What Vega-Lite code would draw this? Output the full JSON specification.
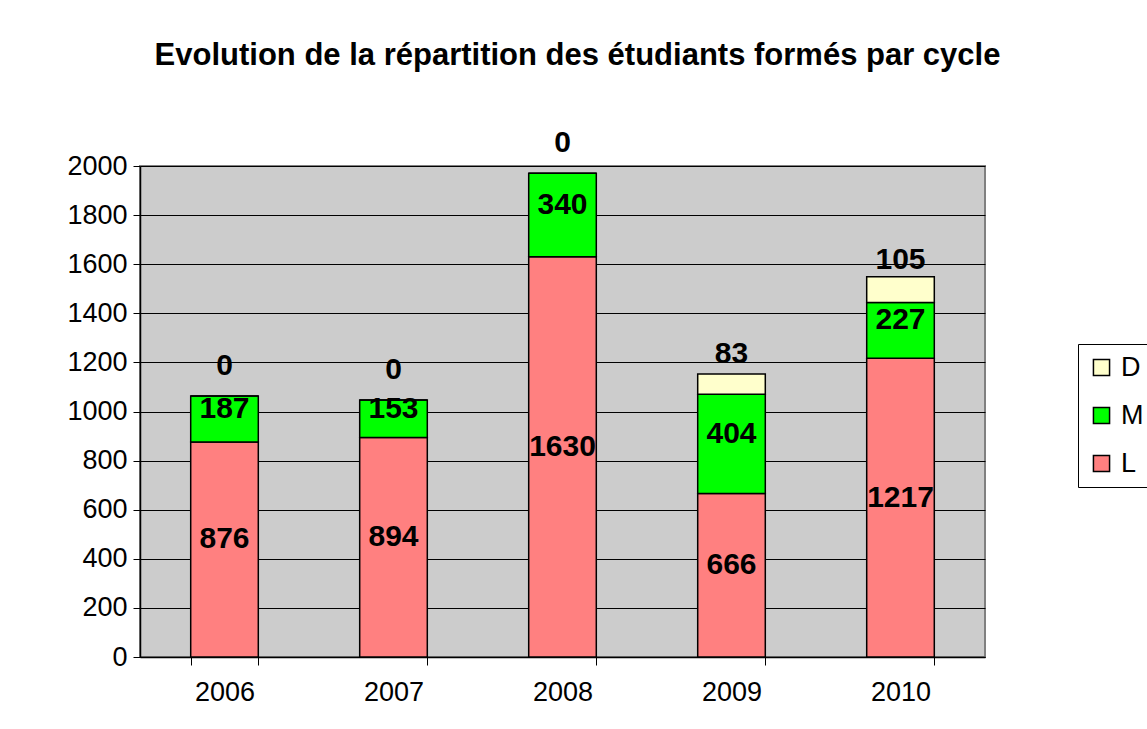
{
  "$schema": "https://vega.github.io/schema/vega-lite/v6.json",
  "width": 845,
  "height": 491,
  "autosize": "none",
  "padding": {"left": 140, "top": 166, "right": 162, "bottom": 72},
  "background": "white",
  "config": {
    "font": "Liberation Sans",
    "view": {"fill": "#CCCCCC", "stroke": "#808080", "strokeWidth": 2}
  },
  "title": {
    "text": "Evolution de la répartition des étudiants formés par cycle",
    "fontSize": 31,
    "fontWeight": "bold",
    "font": "Liberation Sans",
    "color": "black",
    "anchor": "middle",
    "frame": "group",
    "dx": 15,
    "offset": 56
  },
  "data": {
    "values": [
      {"annee": "2006", "cycle": "L", "rang": 1, "n": 876},
      {"annee": "2006", "cycle": "M", "rang": 2, "n": 187},
      {"annee": "2006", "cycle": "D", "rang": 3, "n": 0},
      {"annee": "2007", "cycle": "L", "rang": 1, "n": 894},
      {"annee": "2007", "cycle": "M", "rang": 2, "n": 153},
      {"annee": "2007", "cycle": "D", "rang": 3, "n": 0},
      {"annee": "2008", "cycle": "L", "rang": 1, "n": 1630},
      {"annee": "2008", "cycle": "M", "rang": 2, "n": 340},
      {"annee": "2008", "cycle": "D", "rang": 3, "n": 0},
      {"annee": "2009", "cycle": "L", "rang": 1, "n": 666},
      {"annee": "2009", "cycle": "M", "rang": 2, "n": 404},
      {"annee": "2009", "cycle": "D", "rang": 3, "n": 83},
      {"annee": "2010", "cycle": "L", "rang": 1, "n": 1217},
      {"annee": "2010", "cycle": "M", "rang": 2, "n": 227},
      {"annee": "2010", "cycle": "D", "rang": 3, "n": 105}
    ]
  },
  "transform": [
    {"stack": "n", "groupby": ["annee"], "sort": [{"field": "rang", "order": "ascending"}], "as": ["y0", "y1"]},
    {"calculate": "(datum.y0 + datum.y1) / 2", "as": "ymid"}
  ],
  "encoding": {
    "x": {
      "field": "annee",
      "type": "nominal",
      "title": null,
      "scale": {"paddingInner": 0.6, "paddingOuter": 0.3},
      "axis": {
        "labelAngle": 0,
        "labelFontSize": 27,
        "labelColor": "black",
        "labelPadding": 14,
        "tickBand": "extent",
        "tickSize": 8,
        "tickColor": "black",
        "domainColor": "black",
        "domainWidth": 1.5
      }
    }
  },
  "layer": [
    {
      "mark": {"type": "bar", "stroke": "black", "strokeWidth": 1.5},
      "encoding": {
        "y": {
          "field": "y0",
          "type": "quantitative",
          "title": null,
          "scale": {"domain": [0, 2000], "nice": false},
          "axis": {
            "values": [0, 200, 400, 600, 800, 1000, 1200, 1400, 1600, 1800, 2000],
            "format": "d",
            "labelFontSize": 27,
            "labelColor": "black",
            "labelPadding": 6,
            "tickSize": 7,
            "tickColor": "black",
            "domainColor": "black",
            "domainWidth": 1.5,
            "grid": true,
            "gridColor": "black",
            "gridWidth": 1
          }
        },
        "y2": {"field": "y1"},
        "color": {
          "field": "cycle",
          "type": "nominal",
          "scale": {"domain": ["D", "M", "L"], "range": ["#FFFFCC", "#00FF00", "#FF8080"]},
          "legend": {
            "title": null,
            "orient": "none",
            "legendX": 938,
            "legendY": 178,
            "labelFontSize": 27,
            "labelColor": "black",
            "symbolType": "square",
            "symbolSize": 260,
            "symbolStrokeColor": "black",
            "symbolStrokeWidth": 1.5,
            "rowPadding": 20,
            "labelOffset": 6,
            "strokeColor": "black",
            "padding": 10,
            "fillColor": "white"
          }
        }
      }
    },
    {
      "transform": [{"filter": "datum.cycle != 'D'"}],
      "mark": {"type": "text", "fontSize": 30, "fontWeight": "bold", "color": "black", "font": "Liberation Sans", "dy": -10},
      "encoding": {
        "y": {"field": "ymid", "type": "quantitative"},
        "text": {"field": "n", "type": "quantitative"}
      }
    },
    {
      "transform": [{"filter": "datum.cycle == 'D'"}],
      "mark": {"type": "text", "fontSize": 30, "fontWeight": "bold", "color": "black", "font": "Liberation Sans", "dy": -30},
      "encoding": {
        "y": {"field": "ymid", "type": "quantitative"},
        "text": {"field": "n", "type": "quantitative"}
      }
    }
  ]
}
